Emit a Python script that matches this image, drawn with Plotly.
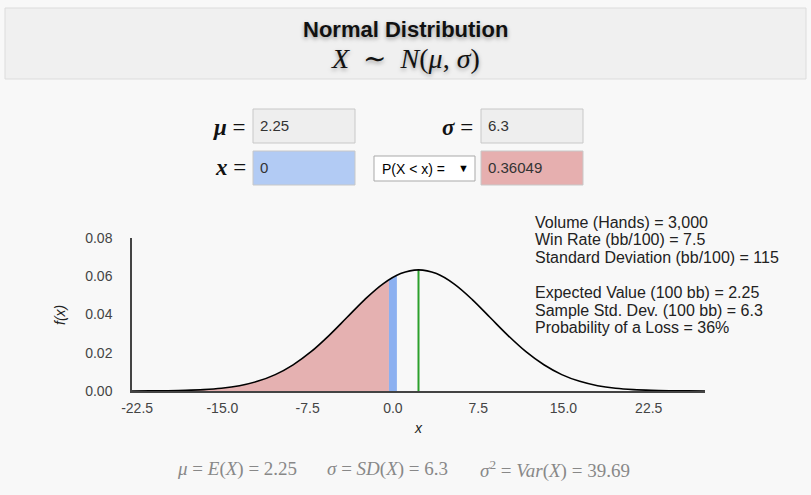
import plotly.graph_objects as go

W, H = 811, 495

mean = 2.25
sd = 6.3
x_value = 0
prob = '0.36049'
variance = '39.69'

# density curve
curve_x = [-22.95, -21.38, -19.8, -18.23, -16.65, -15.08, -13.5, -11.93, -10.35, -8.78,
           -7.2, -5.63, -4.05, -2.48, -0.9, 0.68, 2.25, 3.83, 5.4, 6.98, 8.55, 10.13,
           11.7, 13.28, 14.85, 16.43, 18.0, 19.58, 21.15, 22.73, 24.3, 25.88, 27.45]
curve_y = [0.00002, 0.00006, 0.00014, 0.00032, 0.00070, 0.00144, 0.00278, 0.00504,
           0.00857, 0.01370, 0.02056, 0.02899, 0.03841, 0.04780, 0.05588, 0.06138,
           0.06333, 0.06138, 0.05588, 0.04780, 0.03841, 0.02899, 0.02056, 0.01370,
           0.00857, 0.00504, 0.00278, 0.00144, 0.00070, 0.00032, 0.00014, 0.00006, 0.00002]

# blue strip around x
strip_x = [-0.35, 0.0, 0.35]
strip_y = [0.05816, 0.05941, 0.06051]
peak_y = 0.06333

x_ticks = [-22.5, -15.0, -7.5, 0.0, 7.5, 15.0, 22.5]
y_ticks = [0.00, 0.02, 0.04, 0.06, 0.08]

info_top = ['Volume (Hands) = 3,000',
            'Win Rate (bb/100) = 7.5',
            'Standard Deviation (bb/100) = 115']
info_bottom = ['Expected Value (100 bb) = 2.25',
               'Sample Std. Dev. (100 bb) = 6.3',
               'Probability of a Loss = 36%']

def px(v):
    return v / W

def py(v):
    return 1 - v / H

loss_x = [a for a in curve_x if a < strip_x[0]] + [strip_x[0]]
loss_y = [b for a, b in zip(curve_x, curve_y) if a < strip_x[0]] + [strip_y[0]]

fig = go.Figure()
fig.add_trace(go.Scatter(x=loss_x, y=loss_y, mode='lines', fill='tozeroy',
                         fillcolor='#e5b1b1', line=dict(width=0, shape='spline'),
                         hoverinfo='skip'))
fig.add_trace(go.Scatter(x=strip_x, y=strip_y, mode='lines', fill='tozeroy',
                         fillcolor='#8cb0f0', line=dict(width=0, shape='spline'),
                         hoverinfo='skip'))
fig.add_trace(go.Scatter(x=[mean, mean], y=[0, peak_y], mode='lines',
                         line=dict(color='#2ca02c', width=2), hoverinfo='skip'))
fig.add_trace(go.Scatter(x=curve_x, y=curve_y, mode='lines',
                         line=dict(color='#000000', width=1.6, shape='spline')))

axis_font = dict(family='Liberation Sans, Arial', size=14, color='#444')
fig.update_xaxes(range=[curve_x[0], curve_x[-1]], domain=[px(132), px(705)],
                 tickvals=x_ticks, ticktext=['%.1f' % v for v in x_ticks], ticks='',
                 showgrid=False, zeroline=False, showline=True, linecolor='#444',
                 linewidth=1.5, tickfont=axis_font, ticklabelstandoff=3, automargin=False)
fig.update_yaxes(range=[0, 0.08], domain=[py(391), py(238)],
                 tickvals=y_ticks, ticktext=['%.2f' % v for v in y_ticks], ticks='',
                 showgrid=False, zeroline=False, showline=True, linecolor='#444',
                 linewidth=1.5, tickfont=axis_font, ticklabelstandoff=15, automargin=False)

shapes = []
# header panel
shapes.append(dict(type='rect', xref='paper', yref='paper', x0=px(5), x1=px(806),
                   y0=py(79), y1=py(8), fillcolor='#f0f0f0',
                   line=dict(color='#dcdcdc', width=1), layer='below'))
# input boxes
boxes = [(253, 355, 109, 143, '#eeeeee'), (481, 583, 109, 143, '#eeeeee'),
         (253, 355, 151, 185, '#b2cbf4'), (481, 583, 151, 185, '#e6afaf')]
for x0, x1, y0, y1, c in boxes:
    shapes.append(dict(type='rect', xref='paper', yref='paper', x0=px(x0), x1=px(x1),
                       y0=py(y1), y1=py(y0), fillcolor=c,
                       line=dict(color='#c8c8c8', width=1), layer='below'))
shapes.append(dict(type='rect', xref='paper', yref='paper', x0=px(374), x1=px(475),
                   y0=py(181), y1=py(156), fillcolor='#ffffff',
                   line=dict(color='#a9a9a9', width=1), layer='below'))

ann = []
def note(x, y, text, size=14, color='#222', family='Liberation Sans, Arial',
         xanchor='left', yanchor='middle', **kw):
    ann.append(dict(x=px(x), y=py(y), xref='paper', yref='paper', text=text,
                    showarrow=False, xanchor=xanchor, yanchor=yanchor,
                    font=dict(family=family, size=size, color=color, **kw.pop('fkw', {})),
                    **kw))

shadow = '0px 2px 4px rgba(0,0,0,0.35)'
math = 'Liberation Serif, DejaVu Serif'
note(405, 30, '<b>Normal Distribution</b>', size=22, color='#111', xanchor='center',
     fkw=dict(shadow=shadow))
note(405, 59, '<i>X</i>  ∼  <i>N</i>(<i>μ</i>, <i>σ</i>)', size=28, color='#111',
     family=math, xanchor='center', fkw=dict(shadow=shadow))

note(248, 127, '<b><i>μ</i></b> =', size=23, color='#111', family=math, xanchor='right')
note(475, 127, '<b><i>σ</i></b> =', size=23, color='#111', family=math, xanchor='right')
note(248, 168, '<b><i>x</i></b> =', size=23, color='#111', family=math, xanchor='right')

note(258, 126, str(mean), size=15, color='#333')
note(486, 126, str(sd), size=15, color='#333')
note(258, 168, str(x_value), size=15, color='#333')
note(486, 168, prob, size=15, color='#333')
note(380, 169, 'P(X &lt; x) =', size=14, color='#000')
note(463, 168, '▼', size=11, color='#000', xanchor='center')

for i, line in enumerate(info_top):
    note(533, 222 + 17.6 * i, line, size=16, color='#222')
for i, line in enumerate(info_bottom):
    note(533, 292.5 + 17.6 * i, line, size=16, color='#222')

note(60, 315, '<i>f(x)</i>', size=14, color='#222', xanchor='center', textangle=-90)
note(418, 428, '<i>x</i>', size=14, color='#222', xanchor='center')

grey = '#888'
note(175, 469, '<i>μ</i> = <i>E</i>(<i>X</i>) = %s' % mean, size=19, color=grey, family=math)
note(325, 469, '<i>σ</i> = <i>SD</i>(<i>X</i>) = %s' % sd, size=19, color=grey, family=math)
note(478, 469, '<i>σ</i><sup>2</sup> = <i>Var</i>(<i>X</i>) = %s' % variance, size=19,
     color=grey, family=math)

fig.update_layout(width=W, height=H, margin=dict(l=0, r=0, t=0, b=0),
                  paper_bgcolor='#f8f8f8', plot_bgcolor='#f8f8f8',
                  showlegend=False, shapes=shapes, annotations=ann)

fig.write_html('out.html', config={'displayModeBar': False},
               post_script="document.body.style.margin='0';"
                           "document.body.style.overflow='hidden';")
